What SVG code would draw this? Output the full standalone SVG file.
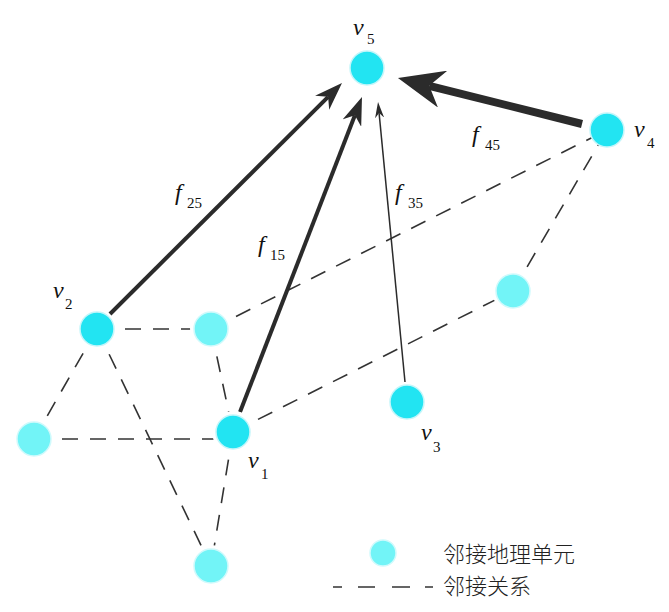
<svg xmlns="http://www.w3.org/2000/svg" width="669" height="612" viewBox="0 0 669 612">
<style>
.dash{stroke:#333;stroke-width:1.6;stroke-dasharray:16 12;fill:none}
.arr{stroke:#2b2b2b;fill:none;stroke-linecap:butt}
.halo{fill:#fff}
.nd{fill:#22e4f2;stroke:#c4f6fa;stroke-width:1.5}
.nl{fill:#72f4f7;stroke:#d0fafc;stroke-width:1.5}
.lbl{font-family:"Liberation Serif",serif;font-style:italic;font-size:24px;fill:#111}
.sub{font-family:"Liberation Serif",serif;font-size:15px;fill:#111}
.leg{font-family:"Noto Sans CJK SC",sans-serif;font-size:22px;fill:#222;font-weight:300}
</style>
<defs>
<marker id="hBig" markerUnits="userSpaceOnUse" viewBox="0 -19 46 38" markerWidth="46" markerHeight="38" refX="13.8" refY="0" orient="auto">
<path d="M46,0 L0,-19 L13.8,0 L0,19 Z" fill="#2b2b2b"/>
</marker>
<marker id="hMid" markerUnits="userSpaceOnUse" viewBox="0 -10 28 20" markerWidth="28" markerHeight="20" refX="8.4" refY="0" orient="auto">
<path d="M28,0 L0,-10 L8.4,0 L0,10 Z" fill="#2b2b2b"/>
</marker>
<marker id="hSm" markerUnits="userSpaceOnUse" viewBox="0 -4.5 16 9" markerWidth="16" markerHeight="9" refX="4.8" refY="0" orient="auto">
<path d="M16,0 L0,-4.5 L4.8,0 L0,4.5 Z" fill="#2b2b2b"/>
</marker>
</defs>
<rect width="669" height="612" fill="#fff"/>
<g id="connectors">
<line class="dash" x1="97" y1="329" x2="211" y2="329"/>
<line class="dash" x1="97" y1="329" x2="34" y2="439"/>
<line class="dash" x1="97" y1="329" x2="211" y2="566"/>
<line class="dash" x1="211" y1="329" x2="233" y2="432"/>
<line class="dash" x1="34" y1="439" x2="233" y2="439"/>
<line class="dash" x1="233" y1="432" x2="211" y2="566"/>
<line class="dash" x1="211" y1="329" x2="607" y2="130"/>
<line class="dash" x1="233" y1="432" x2="513" y2="291"/>
<line class="dash" x1="513" y1="291" x2="607" y2="130"/>
<line class="arr" stroke-width="8" x1="582" y1="124" x2="429.2" y2="85.8" marker-end="url(#hBig)"/>
<line class="arr" stroke-width="4" x1="110" y1="314" x2="328.1" y2="96.8" marker-end="url(#hMid)"/>
<line class="arr" stroke-width="4" x1="240" y1="412" x2="354.9" y2="115.3" marker-end="url(#hMid)"/>
<line class="arr" stroke-width="1.5" x1="405" y1="382" x2="379.1" y2="113.1" marker-end="url(#hSm)"/>
</g>
<g id="n-v5"><circle class="nd" cx="367" cy="68" r="17"/></g>
<g id="n-v4"><circle class="nd" cx="607" cy="130" r="17"/></g>
<g id="n-v2"><circle class="nd" cx="97" cy="329" r="17"/></g>
<g id="n-a"><circle class="halo" cx="211" cy="329" r="21"/><circle class="nl" cx="211" cy="329" r="17"/></g>
<g id="n-v1"><circle class="halo" cx="233" cy="432" r="21"/><circle class="nd" cx="233" cy="432" r="17"/></g>
<g id="n-b"><circle class="halo" cx="34" cy="439" r="21"/><circle class="nl" cx="34" cy="439" r="17"/></g>
<g id="n-v3"><circle class="nd" cx="407" cy="402" r="17"/></g>
<g id="n-c"><circle class="halo" cx="513" cy="291" r="21"/><circle class="nl" cx="513" cy="291" r="17"/></g>
<g id="n-d"><circle class="halo" cx="211" cy="566" r="21"/><circle class="nl" cx="211" cy="566" r="17"/></g>
<g id="labels">
<text class="lbl" x="353" y="35">v</text><text class="sub" x="367" y="44">5</text>
<text class="lbl" x="634" y="137">v</text><text class="sub" x="647" y="148">4</text>
<text class="lbl" x="53" y="298">v</text><text class="sub" x="65" y="309">2</text>
<text class="lbl" x="248" y="468">v</text><text class="sub" x="261" y="479">1</text>
<text class="lbl" x="421" y="440">v</text><text class="sub" x="433" y="452">3</text>
<text class="lbl" x="472" y="142">f</text><text class="sub" x="485" y="150">45</text>
<text class="lbl" x="395" y="200">f</text><text class="sub" x="408" y="208">35</text>
<text class="lbl" x="175" y="200">f</text><text class="sub" x="187" y="208">25</text>
<text class="lbl" x="258" y="252">f</text><text class="sub" x="270" y="260">15</text>
</g>
<g id="legend">
<circle class="nl" cx="383" cy="553" r="13"/>
<line x1="333" y1="587" x2="433" y2="587" stroke="#333" stroke-width="1.6" stroke-dasharray="9 16 17 17 18 15 8"/>
<text class="leg" x="443" y="562">邻接地理单元</text>
<text class="leg" x="443" y="594">邻接关系</text>
</g>
</svg>
